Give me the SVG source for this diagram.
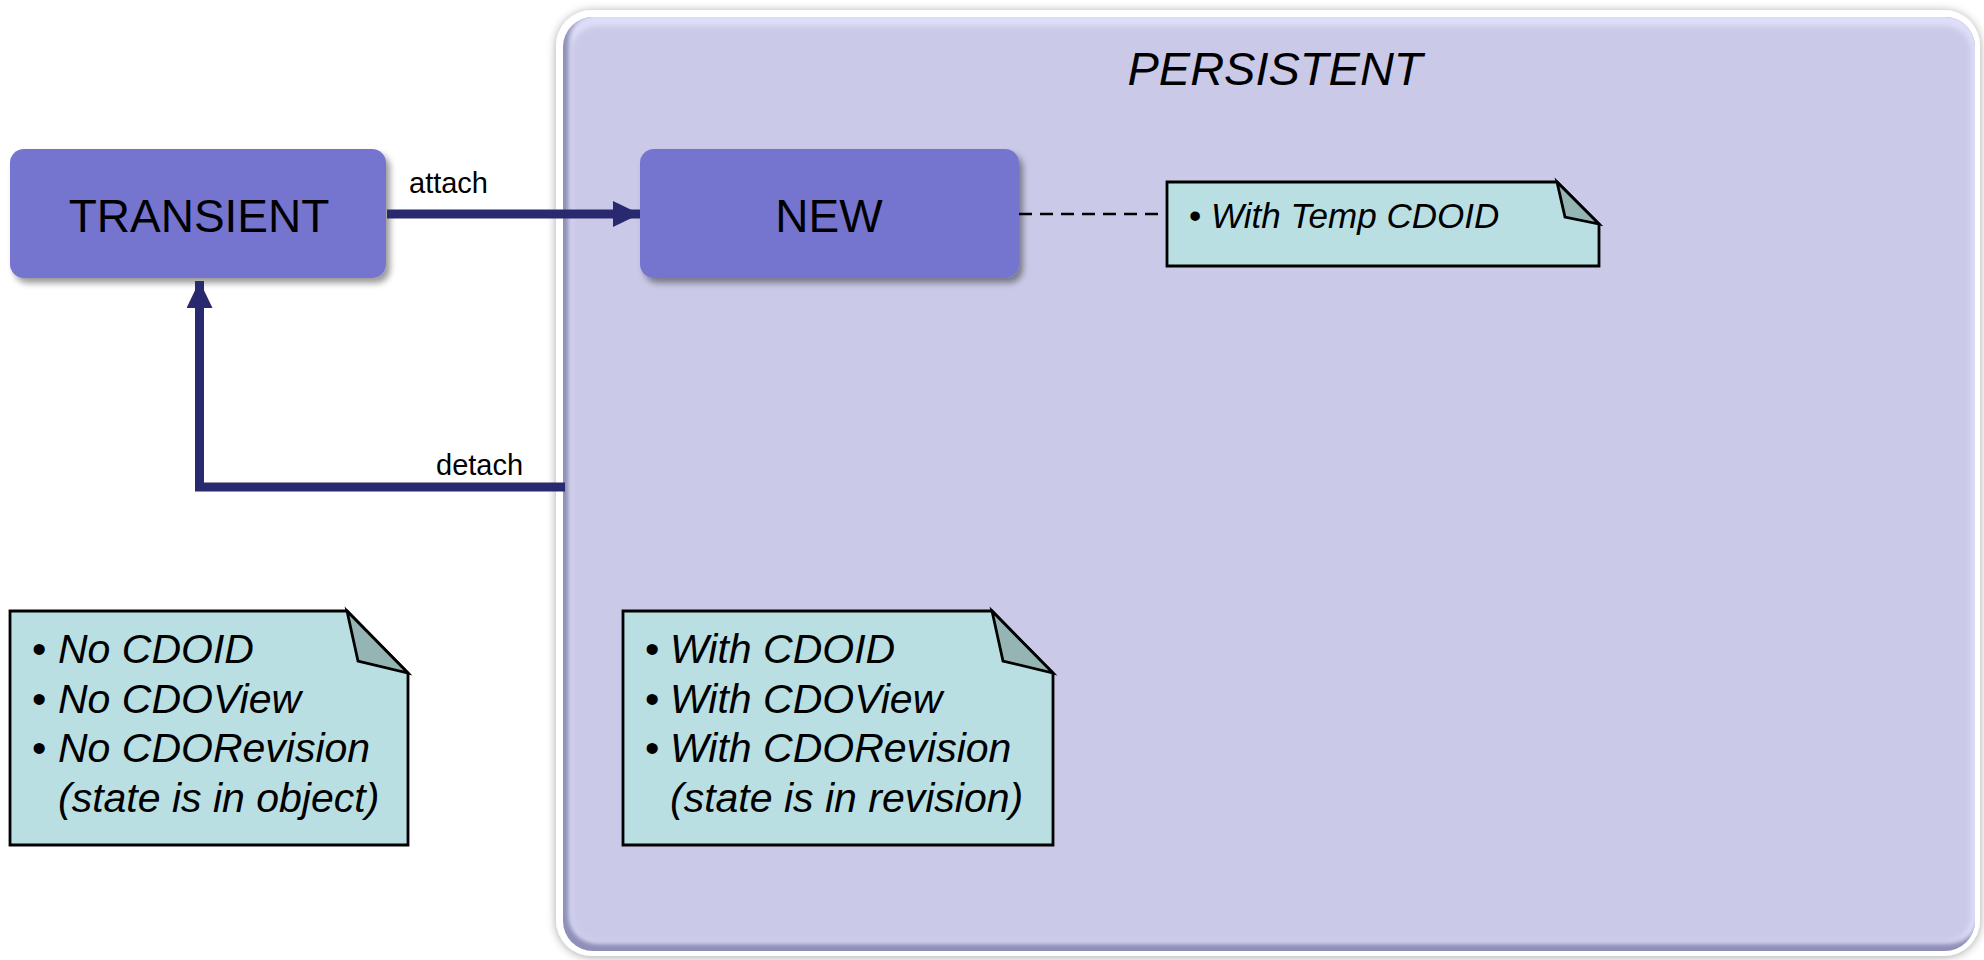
<svg xmlns="http://www.w3.org/2000/svg" width="1984" height="960" viewBox="0 0 1984 960">
  <defs>
    <filter id="nodeShadow" x="-10%" y="-20%" width="130%" height="150%">
      <feDropShadow dx="4" dy="5" stdDeviation="3" flood-color="#000" flood-opacity="0.4"/>
    </filter>
    <filter id="frameShadow" x="-5%" y="-5%" width="110%" height="110%">
      <feDropShadow dx="0" dy="1" stdDeviation="5" flood-color="#000" flood-opacity="0.35"/>
    </filter>
    <filter id="soften" x="-5%" y="-5%" width="110%" height="110%">
      <feGaussianBlur stdDeviation="2.5"/>
    </filter>
    <clipPath id="frameClip">
      <rect x="563" y="17" width="1412" height="934" rx="30"/>
    </clipPath>
    <marker id="arrow" viewBox="0 0 27 26" refX="27" refY="13" markerUnits="userSpaceOnUse" markerWidth="27" markerHeight="26" orient="auto">
      <path d="M0,0 L27,13 L0,26 Z" fill="#29296f"/>
    </marker>
    <style>
      .state { fill: #7575d0; filter: url(#nodeShadow); }
      .stateText { font-family: "Liberation Sans", Arial, sans-serif; font-size: 46px; fill: #000; text-anchor: middle; }
      .title { font-style: italic; font-size: 47px; }
      .edge { fill: none; stroke: #29296f; stroke-width: 9; stroke-linejoin: miter; }
      .edgeText { font-family: "Liberation Sans", Arial, sans-serif; font-size: 29px; fill: #000; }
      .note { fill: #b9dfe2; stroke: #000; stroke-width: 2.8; stroke-linejoin: miter; }
      .fold { fill: #95b5b5; stroke: #000; stroke-width: 2.8; stroke-linejoin: miter; }
      .noteText { font-family: "Liberation Sans", Arial, sans-serif; font-style: italic; font-size: 41px; fill: #000; }
      .noteText.small { font-size: 35px; }
      .bullet { font-style: normal; }
      .anchor { stroke: #000; stroke-width: 2.5; stroke-dasharray: 13 8; fill: none; }
    </style>
  </defs>

  <rect width="1984" height="960" fill="#ffffff"/>

  <!-- PERSISTENT composite state: white rim, bevelled lavender body -->
  <g id="persistent">
    <rect x="556" y="10" width="1424" height="946" rx="36" fill="#ffffff" filter="url(#frameShadow)"/>
    <g clip-path="url(#frameClip)">
      <rect x="563" y="17" width="1412" height="934" fill="#8f8fb8"/>
      <rect x="569" y="13" width="1410" height="930" rx="28" fill="#dedef8" filter="url(#soften)"/>
      <rect x="571" y="26" width="1400" height="916" rx="26" fill="#cacae8" filter="url(#soften)"/>
    </g>
    <text x="1275" y="85" class="stateText title">PERSISTENT</text>
  </g>

  <!-- TRANSIENT state -->
  <g id="transient">
    <rect x="10" y="149" width="376" height="129" rx="14" class="state"/>
    <text x="199" y="232" class="stateText">TRANSIENT</text>
  </g>

  <!-- NEW state -->
  <g id="new">
    <rect x="640" y="149" width="379" height="129" rx="14" class="state"/>
    <text x="829" y="232" class="stateText">NEW</text>
  </g>

  <!-- Note attached to NEW -->
  <g id="note-new">
    <path class="note" d="M1167,182 L1557,182 L1599,224 L1599,266 L1167,266 Z"/>
    <path class="fold" d="M1557,182 L1565,217 L1599,224 Z"/>
    <text class="noteText small" x="1189" y="228"><tspan class="bullet">•</tspan> With Temp CDOID</text>
  </g>

  <!-- Note for TRANSIENT -->
  <g id="note-transient">
    <path class="note" d="M10,611 L347,611 L408,673 L408,845 L10,845 Z"/>
    <path class="fold" d="M347,611 L358,661 L408,673 Z"/>
    <text class="noteText">
      <tspan x="32" y="663" class="bullet">•</tspan><tspan x="58" y="663">No CDOID</tspan>
      <tspan x="32" y="713" class="bullet">•</tspan><tspan x="58" y="713">No CDOView</tspan>
      <tspan x="32" y="762" class="bullet">•</tspan><tspan x="58" y="762">No CDORevision</tspan>
      <tspan x="58" y="812">(state is in object)</tspan>
    </text>
  </g>

  <!-- Note for PERSISTENT -->
  <g id="note-persistent">
    <path class="note" d="M623,611 L992,611 L1053,673 L1053,845 L623,845 Z"/>
    <path class="fold" d="M992,611 L1003,661 L1053,673 Z"/>
    <text class="noteText">
      <tspan x="645" y="663" class="bullet">•</tspan><tspan x="670" y="663">With CDOID</tspan>
      <tspan x="645" y="713" class="bullet">•</tspan><tspan x="670" y="713">With CDOView</tspan>
      <tspan x="645" y="762" class="bullet">•</tspan><tspan x="670" y="762">With CDORevision</tspan>
      <tspan x="670" y="812">(state is in revision)</tspan>
    </text>
  </g>

  <!-- Transitions and note anchors -->
  <g id="connectors">
    <path class="edge" d="M387,214 L640,214" marker-end="url(#arrow)"/>
    <text class="edgeText" x="409" y="193">attach</text>
    <path class="edge" d="M565,487 L199.5,487 L199.5,281" marker-end="url(#arrow)"/>
    <text class="edgeText" x="436" y="475">detach</text>
    <path class="anchor" d="M1019,214 L1167,214"/>
  </g>
</svg>
